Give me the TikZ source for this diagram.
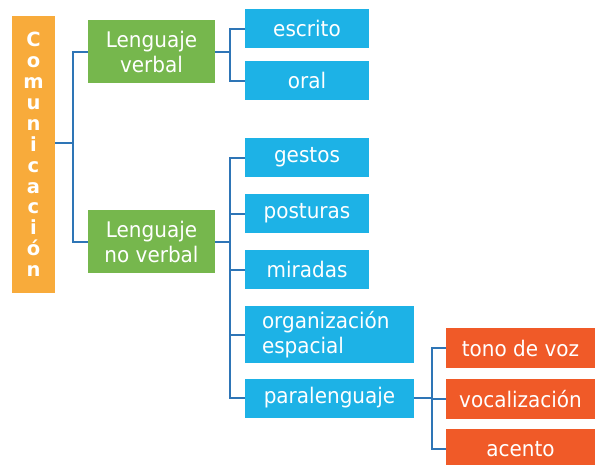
\documentclass[tikz,border=0pt]{standalone}
\usepackage{fontspec}
\setmainfont{DejaVu Sans}
\newfontfamily\cajafont[FakeStretch=0.93]{DejaVu Sans}
\definecolor{naranja}{RGB}{248,171,59}
\definecolor{verde}{RGB}{118,183,77}
\definecolor{celeste}{RGB}{29,178,230}
\definecolor{rojizo}{RGB}{240,90,40}
\definecolor{linea}{RGB}{46,117,182}
\tikzset{
    caja/.style={inner sep=0pt, text=white, font=\cajafont\fontsize{21.5}{25}\selectfont, align=center},
    verdebox/.style={caja, fill=verde, minimum width=127pt, minimum height=63pt},
    azulbox/.style={caja, fill=celeste, minimum width=124pt, minimum height=39pt},
    azulancho/.style={caja, fill=celeste, minimum width=169pt, minimum height=39pt},
    rojobox/.style={caja, fill=rojizo, minimum width=149pt, minimum height=40pt},
    conector/.style={draw=linea, line width=2pt}
}
\begin{document}
\begin{tikzpicture}[x=1pt,y=-1pt]
                \useasboundingbox (0,0) rectangle (595,464);
                % raiz
                \node[caja, fill=naranja, minimum width=43pt, minimum height=277pt,
                    font=\bfseries\fontsize{19.5}{20.9}\selectfont] (com) at (33.5,154.5)
                    {C\\o\\m\\u\\n\\i\\c\\a\\c\\i\\ó\\n};
                % segundo nivel
                \node[verdebox] (lv) at (151.5,51.5) {Lenguaje\\verbal};
                \node[verdebox] (lnv) at (151.5,241.5) {Lenguaje\\no verbal};
                % tercer nivel
                \node[azulbox] (esc) at (307,28.5) {escrito};
                \node[azulbox] (oral) at (307,80.5) {oral};
                \node[azulbox] (ges) at (307,157.5) {gestos};
                \node[azulbox] (pos) at (307,213.5) {posturas};
                \node[azulbox] (mir) at (307,269.5) {miradas};
                \node[azulancho, minimum height=57pt, text width=135pt, align=left] (org) at (329.5,334.5)
                    {organización\\espacial};
                \node[azulancho] (par) at (329.5,398) {paralenguaje};
                % cuarto nivel
                \node[rojobox] (tono) at (520.5,348) {tono de voz};
                \node[rojobox] (voc) at (520.5,399) {vocalización};
                \node[rojobox] (ace) at (520.5,449) {acento};
                % conectores
                \draw[conector] ([yshift=11.5pt]com.east) -- ++(18,0) coordinate (c1);
                \draw[conector] (c1) |- (lv.west);
                \draw[conector] (c1) |- (lnv.west);
                \draw[conector] (lv.east) -- ++(15,0) coordinate (c2);
                \draw[conector] (c2) |- (esc.west);
                \draw[conector] (c2) |- (oral.west);
                \draw[conector] (lnv.east) -- ++(15,0) coordinate (c3);
                \foreach \n in {ges,pos,mir,org,par}
                    \draw[conector] (c3) |- (\n.west);
                \draw[conector] (par.east) -- ++(18,0) coordinate (c4);
                \foreach \n in {tono,voc,ace}
                    \draw[conector] (c4) |- (\n.west);
\end{tikzpicture}
\end{document}
